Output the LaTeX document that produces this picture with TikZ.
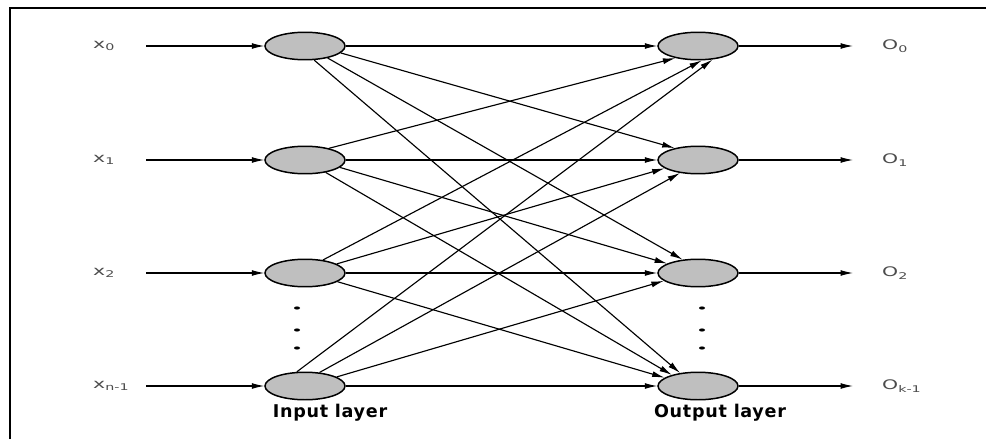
\documentclass[tikz,border=0pt]{standalone}
\usepackage{fontspec}
\setmainfont{DejaVu Sans}
\usepackage{tikz}
\usetikzlibrary{shapes.geometric,arrows.meta}

\tikzset{
  neuron/.style={ellipse,draw,fill=gray!50,line width=0.85pt,minimum width=1.6cm,minimum height=0.55cm,inner sep=0pt},
  wire/.style={line width=0.65pt,-{Latex[length=2.5mm,width=1.2mm]}},
  sig/.style={anchor=west,text=black!70,font=\fontsize{7.5}{9}\selectfont\addfontfeature{FakeStretch=1.55}},
  layer/.style={font=\fontsize{10}{11}\selectfont\bfseries\addfontfeature{LetterSpace=4}}
}

\begin{document}
\begin{tikzpicture}[x=0.02cm,y=-0.02cm]
	\useasboundingbox (0,0) rectangle (986,439);
	% frame
	\draw[line width=1.7pt] (10,439) -- (10,7);
	\draw[line width=1.1pt] (9,8) -- (986,8);

	% input layer
	\node[neuron] (I0) at (305,46) {};
	\node[neuron] (I1) at (305,160) {};
	\node[neuron] (I2) at (305,273) {};
	\node[neuron] (In) at (305,386) {};
	\node[layer] (inlab) at (330,413) {Input layer};

	% output layer
	\node[neuron] (O0) at (698,46) {};
	\node[neuron] (O1) at (698,160) {};
	\node[neuron] (O2) at (698,273) {};
	\node[neuron] (Ok) at (698,386) {};
	\node[layer] (outlab) at (720,413) {Output layer};

	% dots between the last two rows
	\fill (297,308) ellipse (0.06cm and 0.032cm);
	\fill (297,330) ellipse (0.06cm and 0.032cm);
	\fill (297,348) ellipse (0.06cm and 0.032cm);
	\fill (702,308) ellipse (0.06cm and 0.032cm);
	\fill (702,330) ellipse (0.06cm and 0.032cm);
	\fill (702,348) ellipse (0.06cm and 0.032cm);

	% inputs
	\node[sig] (x0) at (87,46) {x\textsubscript{0}};
	\node[sig] (x1) at (87,160) {x\textsubscript{1}};
	\node[sig] (x2) at (87,273) {x\textsubscript{2}};
	\node[sig] (xn) at (87,386) {x\textsubscript{n-1}};
	\coordinate (s0) at (146,46);
	\coordinate (s1) at (146,160);
	\coordinate (s2) at (146,273);
	\coordinate (sn) at (146,386);
	\draw[wire] (s0) -- (I0);
	\draw[wire] (s1) -- (I1);
	\draw[wire] (s2) -- (I2);
	\draw[wire] (sn) -- (In);

	% outputs
	\coordinate (e0) at (853,46);
	\coordinate (e1) at (853,160);
	\coordinate (e2) at (853,273);
	\coordinate (ek) at (853,386);
	\node[sig] (o0) at (876,46) {O\textsubscript{0}};
	\node[sig] (o1) at (876,160) {O\textsubscript{1}};
	\node[sig] (o2) at (876,273) {O\textsubscript{2}};
	\node[sig] (ok) at (876,386) {O\textsubscript{k-1}};
	\draw[wire] (O0) -- (e0);
	\draw[wire] (O1) -- (e1);
	\draw[wire] (O2) -- (e2);
	\draw[wire] (Ok) -- (ek);

	% weights, every input to every output
	\draw[wire] (I0.east) -- (O0.west);
	\draw[wire] (I0.-11) -- (O1.153);
	\draw[wire] (I0.-28) -- (O2.139);
	\draw[wire] (I0.-57) -- (Ok.144);
	\draw[wire] (I1.26) -- (O0.208);
	\draw[wire] (I1.east) -- (O1.west);
	\draw[wire] (I1.-12) -- (O2.163);
	\draw[wire] (I1.-31) -- (Ok.157);
	\draw[wire] (I2.36) -- (O0.-75);
	\draw[wire] (I2.16) -- (O1.194);
	\draw[wire] (I2.east) -- (O2.west);
	\draw[wire] (I2.-15) -- (Ok.166);
	\draw[wire] (In.120) -- (O0.-43);
	\draw[wire] (In.43) -- (O1.216);
	\draw[wire] (In.16) -- (O2.193);
	\draw[wire] (In.east) -- (Ok.west);
\end{tikzpicture}
\end{document}
